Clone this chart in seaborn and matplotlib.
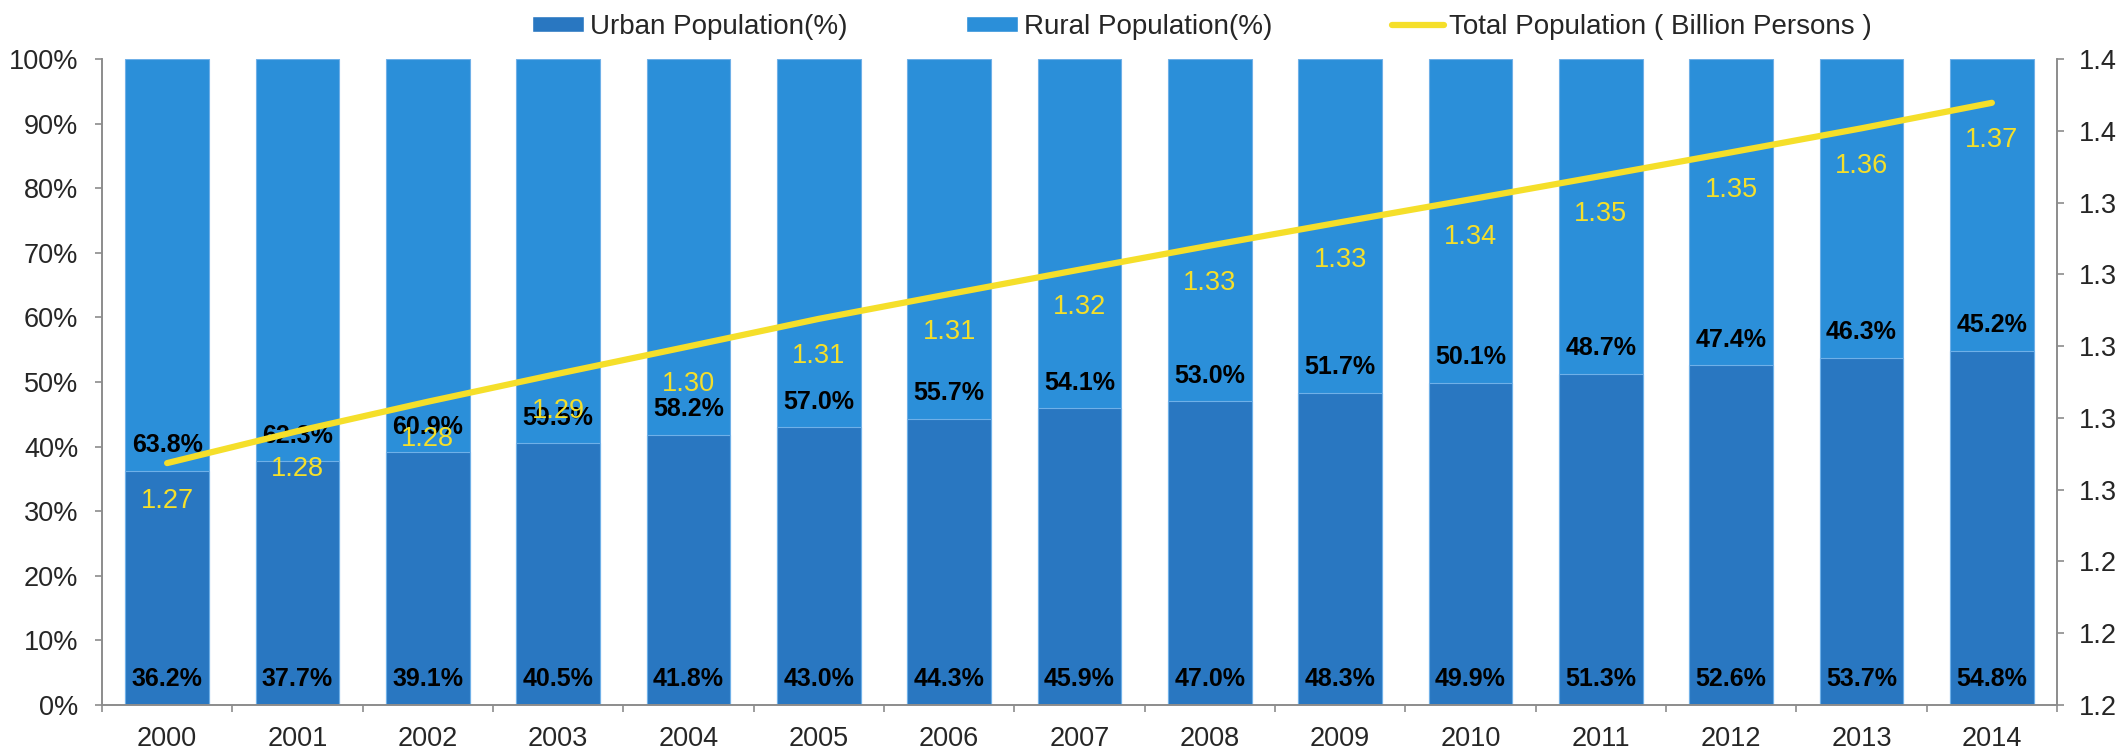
import matplotlib
matplotlib.use("Agg")
import matplotlib.pyplot as plt
import matplotlib.ticker as mticker
from matplotlib.patches import Patch
from matplotlib.lines import Line2D
import seaborn as sns
import numpy as np
import pandas as pd

sns.set_style("white")
plt.rcParams['font.family'] = ['Liberation Sans', 'DejaVu Sans']

years = [str(y) for y in range(2000, 2015)]
urban = [36.2, 37.7, 39.1, 40.5, 41.8, 43.0, 44.3, 45.9, 47.0, 48.3, 49.9, 51.3, 52.6, 53.7, 54.8]
rural = [63.8, 62.3, 60.9, 59.5, 58.2, 57.0, 55.7, 54.1, 53.0, 51.7, 50.1, 48.7, 47.4, 46.3, 45.2]
total_pop = [1.2674, 1.2763, 1.2845, 1.2923, 1.2999, 1.3076, 1.3145, 1.3213,
             1.3280, 1.3345, 1.3409, 1.3474, 1.3540, 1.3607, 1.3678]

urban_c = '#2977C1'
rural_c = '#2B8FD9'
line_c = '#F5DF2A'
spine_c = '#8C8C8C'

df = pd.DataFrame({'year': years, 'urban': urban, 'rural': rural, 'pop': total_pop})
df['stack'] = df['urban'] + df['rural']

fig, ax = plt.subplots(figsize=(21.2, 7.51), dpi=100)
fig.subplots_adjust(left=0.0481, right=0.9703, top=0.9214, bottom=0.0613)

# rural sits on top of urban: draw the full stack first, urban over it
sns.barplot(data=df, x='year', y='stack', color=rural_c, width=0.64, saturation=1,
            edgecolor='#6FB0E8', linewidth=0.8, ax=ax)
sns.barplot(data=df, x='year', y='urban', color=urban_c, width=0.64, saturation=1,
            edgecolor='#6FB0E8', linewidth=0.8, ax=ax)

for i, (u, r) in enumerate(zip(urban, rural)):
    ax.annotate(f"{u:.1f}%", (i, 0), xytext=(0, 18.5), textcoords='offset points',
                ha='center', va='center', fontsize=18, fontweight='bold', color='black')
    ax.annotate(f"{r:.1f}%", (i, u), xytext=(0, 18.5), textcoords='offset points',
                ha='center', va='center', fontsize=18, fontweight='bold', color='black')

ax.set_xlim(-0.5, len(years) - 0.5)
ax.set_ylim(0, 100)
ax.set_yticks(np.arange(0, 101, 10))
ax.yaxis.set_major_formatter(mticker.FuncFormatter(lambda v, p: f"{v:.0f}%"))
ax.set_xlabel('')
ax.set_ylabel('')
ax.tick_params(axis='y', which='major', length=5, width=1.2, color=spine_c,
               labelsize=19.5, left=True, direction='out', pad=12)
ax.tick_params(axis='x', which='major', length=0, labelsize=19.5, pad=15)
ax.set_xticks(np.arange(-0.5, len(years), 1), minor=True)
ax.tick_params(axis='x', which='minor', length=5, width=1.2, color=spine_c, bottom=True)
for s in ['left', 'bottom', 'right']:
    ax.spines[s].set_color(spine_c)
    ax.spines[s].set_linewidth(1.2)
ax.spines['top'].set_visible(False)

ax2 = ax.twinx()
sns.lineplot(data=df, x='year', y='pop', color=line_c, linewidth=4.5, ax=ax2,
             solid_capstyle='round')
for i, p in enumerate(total_pop):
    ax2.annotate(f"{p:.2f}", (i, p), xytext=(0, -27), textcoords='offset points',
                 ha='center', va='center', fontsize=19.5, color=line_c)
ax2.set_ylim(1.20, 1.38)
ax2.set_yticks(np.linspace(1.20, 1.38, 10))
ax2.yaxis.set_major_formatter(mticker.FormatStrFormatter('%.1f'))
ax2.set_ylabel('')
ax2.tick_params(axis='y', length=5, width=1.2, color=spine_c, labelsize=19.5, right=True,
                direction='out', pad=11)
for s in ['left', 'bottom', 'right']:
    ax2.spines[s].set_color(spine_c)
    ax2.spines[s].set_linewidth(1.2)
ax2.spines['top'].set_visible(False)
ax.set_xlim(-0.5, len(years) - 0.5)

handles = [Patch(facecolor=urban_c, label='Urban Population(%)'),
           Patch(facecolor=rural_c, label='Rural Population(%)'),
           Line2D([0], [0], color=line_c, lw=4.5, label='Total Population ( Billion Persons )')]
fig.legend(handles=handles, loc='center', bbox_to_anchor=(0.567, 0.964), ncol=3,
           frameon=False, fontsize=20, handlelength=1.87, handleheight=0.5,
           handletextpad=0.2, columnspacing=4.3)

fig.savefig('out.png', dpi=100)
